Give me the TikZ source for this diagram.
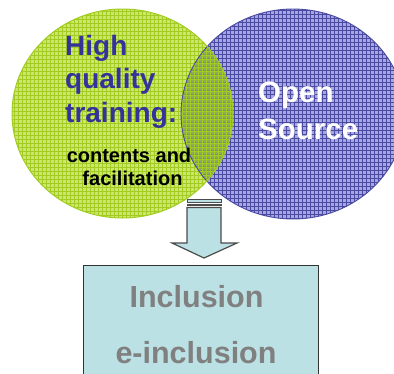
\documentclass[tikz,border=0pt]{standalone}
\usepackage{fontspec}
\setmainfont{Liberation Sans}
\definecolor{greenfill}{HTML}{CCE670}
\definecolor{greenline}{HTML}{A2CC22}
\definecolor{bluefill}{HTML}{A6A6E2}
\definecolor{blueline}{HTML}{4A4AA3}
\definecolor{overlapfill}{HTML}{8FA862}
\definecolor{boxfill}{HTML}{BCE1E4}
\definecolor{titleblue}{HTML}{333399}
\definecolor{graytxt}{HTML}{808080}
\tikzset{
  bgrid/.style={blueline, line width=0.65pt},
  ggrid/.style={greenline, line width=0.75pt},
  bluetxt/.style={titleblue, inner sep=0pt, anchor=base west, font=\fontsize{28}{33}\selectfont\bfseries},
  blacktxt/.style={black, inner sep=0pt, anchor=base, font=\fontsize{20}{23}\selectfont\bfseries},
  whitetxt/.style={white, inner sep=0pt, anchor=base west, font=\fontsize{29.5}{35}\selectfont\bfseries},
  graytext/.style={graytxt, inner sep=0pt, anchor=base, font=\fontsize{30.5}{35}\selectfont\bfseries},
  arrowshape/.style={fill=boxfill, draw=black!70, line width=1.2pt, line join=miter},
  boxshape/.style={fill=boxfill, draw=black!80, line width=0.8pt}
}
\begin{document}
\begin{tikzpicture}[x=1pt,y=-1pt]
\useasboundingbox (0,0) rectangle (394,373);
% blue circle
\begin{scope}
  \clip (293,114) ellipse [x radius=112, y radius=105];
  \fill[bluefill] (175,5) rectangle (410,225);
  \foreach \i in {0,...,58} {
    \draw[bgrid] (178+4*\i,5) -- (178+4*\i,225);
  }
  \foreach \j in {0,...,55} {
    \draw[bgrid] (175,6+4*\j) -- (410,6+4*\j);
  }
\end{scope}
% green circle
\begin{scope}
  \clip (122.5,113.5) ellipse [x radius=110.5, y radius=104.5];
  \fill[greenfill] (8,5) rectangle (238,222);
  \foreach \i in {0,...,58} {
    \draw[ggrid] (10+4*\i,5) -- (10+4*\i,222);
  }
  \foreach \j in {0,...,55} {
    \draw[ggrid] (8,7+4*\j) -- (238,7+4*\j);
  }
\end{scope}
% overlap
\begin{scope}
  \clip (122.5,113.5) ellipse [x radius=110.5, y radius=104.5];
  \clip (293,114) ellipse [x radius=112, y radius=105];
  \fill[overlapfill] (175,5) rectangle (240,225);
  \foreach \i in {0,...,16} {
    \draw[bgrid, opacity=0.25] (178+4*\i,5) -- (178+4*\i,225);
  }
  \foreach \j in {0,...,55} {
    \draw[bgrid, opacity=0.25] (175,6+4*\j) -- (240,6+4*\j);
  }
  \foreach \i in {0,...,58} {
    \draw[ggrid] (10+4*\i,5) -- (10+4*\i,222);
  }
  \foreach \j in {0,...,55} {
    \draw[ggrid] (8,7+4*\j) -- (238,7+4*\j);
  }
\end{scope}
\draw[blueline, line width=0.9pt] (293,114) ellipse [x radius=112, y radius=105];
\draw[greenline, line width=1pt] (122.5,113.5) ellipse [x radius=110.5, y radius=104.5];
% texts
\node[bluetxt] (h1) at (65,55) {High};
\node[bluetxt] (h2) at (65,88.5) {quality};
\node[bluetxt] (h3) at (65,122) {training:};
\node[blacktxt] (c1) at (129,162) {contents and};
\node[blacktxt] (c2) at (132.5,185) {facilitation};
\node[whitetxt] (o1) at (258,102) {Open};
\node[whitetxt] (o2) at (258,139) {Source};
% arrow
\draw[arrowshape, line width=0.9pt] (187,199) rectangle (221,202);
\draw[arrowshape, line width=0.9pt] (187,204) rectangle (221,205.5);
\draw[arrowshape] (187,207.5) -- (187,243) -- (172,243) -- (204,258) -- (237,243) -- (221,243) -- (221,207.5) -- cycle;
% box
\draw[boxshape] (83,265) rectangle (318,385);
\node[graytext] (i1) at (196.5,307) {Inclusion};
\node[graytext] (i2) at (196,363) {e-inclusion};
\end{tikzpicture}
\end{document}
